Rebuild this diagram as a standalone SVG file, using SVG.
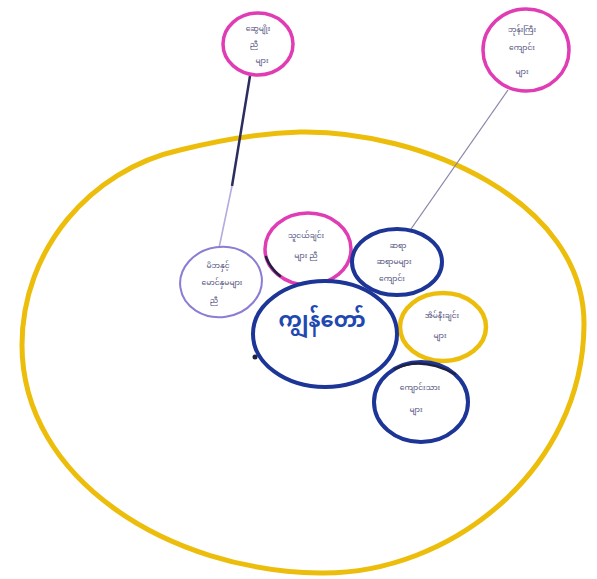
<svg xmlns="http://www.w3.org/2000/svg" width="597" height="579" viewBox="0 0 597 579">
<style>
.yel{fill:none;stroke:#ecbd0a;stroke-width:5;stroke-linecap:round}
.pink{fill:#fff;stroke:#e03cb4;stroke-width:3.5}
.blue{fill:#fff;stroke:#1c3596;stroke-width:4}
.purp{fill:#fff;stroke:#8c7cd4;stroke-width:2}
.yn{fill:#fff;stroke:#ecbd0a;stroke-width:4.5}
.t{font-family:"Noto Sans Myanmar","Padauk","Myanmar Text","Noto Sans",sans-serif;font-size:7.5px;fill:#4a4a78;text-anchor:middle}
.c{font-family:"Noto Sans Myanmar","Padauk","Myanmar Text","Noto Sans",sans-serif;font-size:21px;font-weight:bold;fill:#1f48b0;text-anchor:middle}
.dk{fill:none;stroke:#202040;stroke-width:2.5;stroke-linecap:round}
</style>
<rect width="597" height="579" fill="#fff"/>
<g id="boundary">
<path class="yel" d="M300,132 C420,130 585,200 584,325 C583,470 450,575 320,573 C170,571 22,480 22,345 C22,250 90,170 180,150 C220,140 260,133 300,132 Z"/>
</g>
<g id="connectors">
<line x1="250" y1="76" x2="232" y2="186" stroke="#2c2c5e" stroke-width="2.5"/>
<line x1="232" y1="186" x2="219" y2="248" stroke="#b4acdc" stroke-width="1.6"/>
<line x1="508" y1="90" x2="411" y2="229" stroke="#8a86a8" stroke-width="1.3"/>
</g>
<g id="n-top-left">
<ellipse class="pink" cx="258" cy="44" rx="35" ry="31"/>
<text class="t" x="258" y="31">ဆွေမျိုး</text>
<text class="t" x="254" y="47">ညီ</text>
<text class="t" x="262" y="63">များ</text>
</g>
<g id="n-top-right">
<ellipse class="pink" cx="526" cy="50" rx="43" ry="41"/>
<text class="t" x="522" y="32">ဘုန်းကြီး</text>
<text class="t" x="522" y="50">ကျောင်း</text>
<text class="t" x="522" y="74">များ</text>
</g>
<g id="n-purple">
<ellipse class="purp" cx="221" cy="282" rx="41" ry="35" transform="rotate(-8 221 282)"/>
<text class="t" x="218" y="268">မိဘနှင့်</text>
<text class="t" x="222" y="285">မောင်နှမများ</text>
<text class="t" x="214" y="303">ညီ</text>
</g>
<g id="n-pink-mid">
<ellipse class="pink" cx="308" cy="249" rx="43" ry="36"/>
<text class="t" x="306" y="238">သူငယ်ချင်း</text>
<text class="t" x="306" y="258">များ ညီ</text>
</g>
<g id="n-blue-top">
<ellipse class="blue" cx="397" cy="262" rx="45" ry="33"/>
<text class="t" x="398" y="248">ဆရာ</text>
<text class="t" x="394" y="264">ဆရာမများ</text>
<text class="t" x="392" y="281">ကျောင်း</text>
</g>
<g id="n-yellow">
<ellipse class="yn" cx="443" cy="327" rx="43" ry="34"/>
<text class="t" x="442" y="318">အိမ်နီးချင်း</text>
<text class="t" x="440" y="338">များ</text>
</g>
<g id="n-blue-bottom">
<ellipse class="blue" cx="421" cy="402" rx="47" ry="40"/>
<text class="t" x="420" y="390">ကျောင်းသား</text>
<text class="t" x="416" y="412">များ</text>
</g>
<g id="n-center">
<ellipse class="blue" cx="325" cy="334" rx="72" ry="53"/>
<text class="c" x="322" y="327">ကျွန်တော်</text>
</g>
<g id="marks">
<path class="dk" d="M266,257 Q270,268 280,276"/>
<path class="dk" d="M395,369 Q421,356 455,374"/>
<circle cx="255" cy="357" r="2.5" fill="#202040"/>
</g>
</svg>
